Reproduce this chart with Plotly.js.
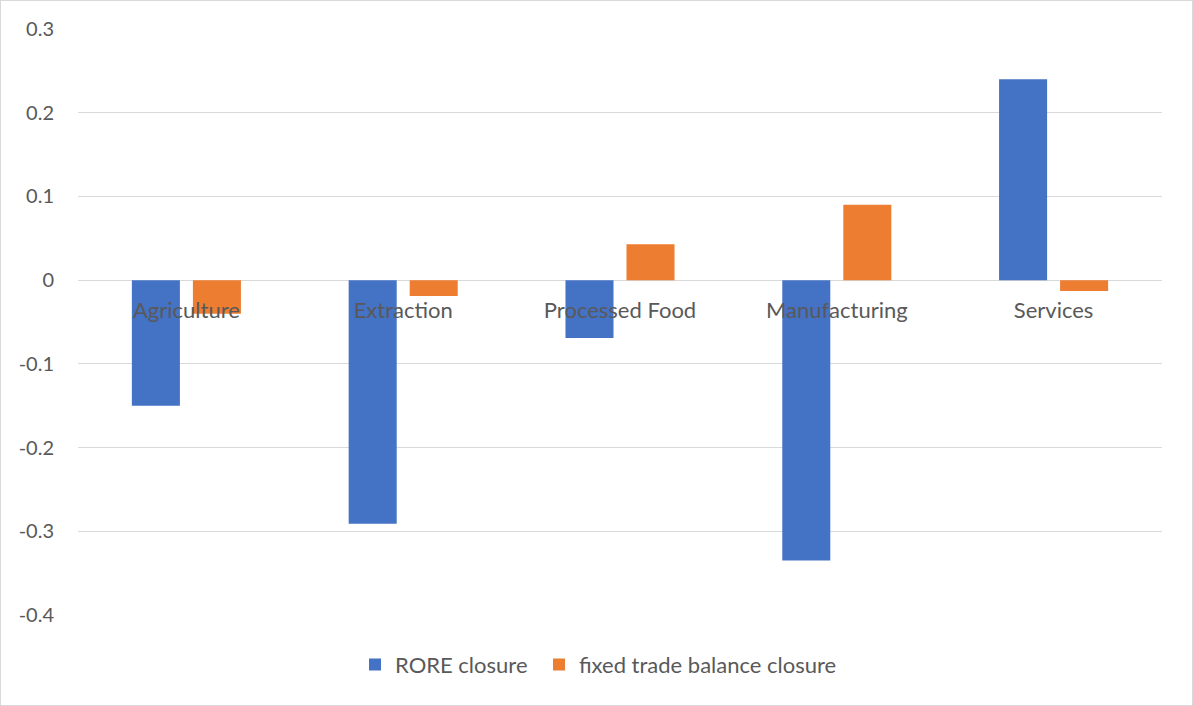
<!DOCTYPE html>
<html>
<head>
<meta charset="utf-8">
<script src="https://cdn.plot.ly/plotly-3.0.1.min.js"></script>
<style>
html,body{margin:0;padding:0;background:#fff;}
#chart{width:1191px;height:704px;border:1px solid #d9d9d9;}
</style>
</head>
<body>
<div id="chart"></div>
<script>
const categories = ["Agriculture", "Extraction", "Processed Food", "Manufacturing", "Services"];
const roreClosure = [-0.15, -0.291, -0.069, -0.335, 0.240];
const fixedTradeBalance = [-0.040, -0.019, 0.043, 0.090, -0.013];
const yTicks = [-0.4, -0.3, -0.2, -0.1, 0, 0.1, 0.2, 0.3];
const yTickText = ["-0.4", "-0.3", "-0.2", "-0.1", "0", "0.1", "0.2", "0.3"];

const fam = "Lato, 'Open Sans', sans-serif";
const yMin = -0.4, yMax = 0.3;

const traces = [
  {type: "bar", name: "RORE closure", x: categories, y: roreClosure,
   marker: {color: "#4472C4"}, legend: "legend"},
  {type: "bar", name: "fixed trade balance closure", x: categories, y: fixedTradeBalance,
   marker: {color: "#ED7D31"}, legend: "legend2"}
];

const legendFont = {family: fam, color: "#595959", size: 22};

const layout = {
  width: 1191, height: 704,
  margin: {l: 77, r: 30, t: 28, b: 90},
  paper_bgcolor: "#fff", plot_bgcolor: "#fff",
  font: {family: fam, color: "#595959", size: 20},
  barmode: "group", bargap: 0.437, bargroupgap: 0.213,
  showlegend: true,
  legend: {orientation: "h", x: (369 - 77 - 15) / 1084, xanchor: "left", y: -0.085, yanchor: "middle",
           font: legendFont},
  legend2: {orientation: "h", x: (553 - 77 - 15) / 1084, xanchor: "left", y: -0.085, yanchor: "middle",
           font: legendFont},
  xaxis: {
    type: "category", anchor: "free", position: (0 - yMin) / (yMax - yMin),
    showgrid: false, showline: false, zeroline: false,
    ticks: "outside", ticklen: 10, tickcolor: "rgba(0,0,0,0)",
    tickfont: {family: fam, color: "#595959", size: 22}
  },
  yaxis: {
    range: [yMin, yMax], tickvals: yTicks, ticktext: yTickText,
    showgrid: true, gridcolor: "#d9d9d9", gridwidth: 1,
    zeroline: true, zerolinecolor: "#d9d9d9", zerolinewidth: 1,
    showline: false, ticks: "outside", ticklen: 19, tickcolor: "rgba(0,0,0,0)",
    tickfont: {family: fam, color: "#595959", size: 20}
  }
};

Plotly.newPlot("chart", traces, layout, {displayModeBar: false, staticPlot: true});
</script>
</body>
</html>
